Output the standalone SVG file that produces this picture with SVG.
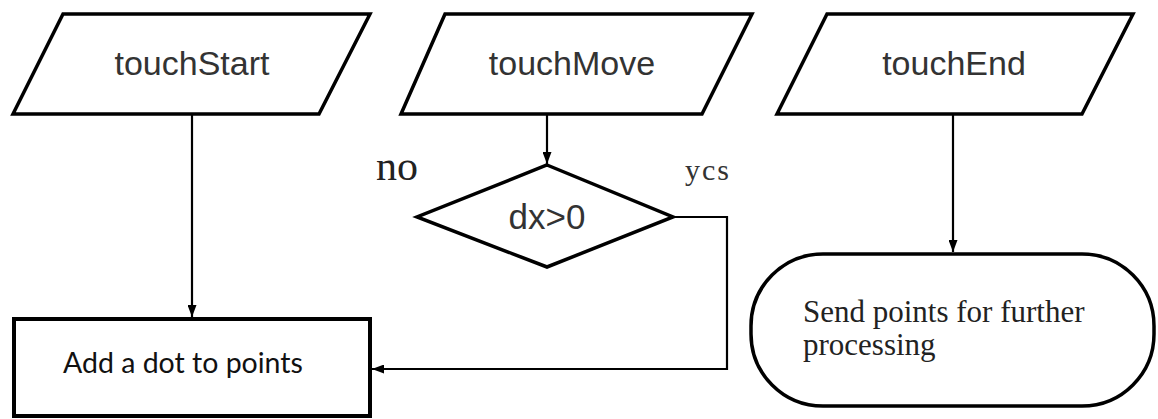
<svg xmlns="http://www.w3.org/2000/svg" width="1158" height="419" viewBox="0 0 1158 419">
<style>
.shape{fill:#fff;stroke:#000;stroke-width:3.5;stroke-linejoin:miter}
.conn{fill:none;stroke:#000;stroke-width:2.2}
.sans{font-family:"Liberation Sans",Arial,sans-serif;fill:#333;font-size:34px;text-anchor:middle}
.serif{font-family:"Liberation Serif","Times New Roman",serif;fill:#222}
</style>
<defs>
<marker id="arr" viewBox="0 0 10 10" refX="10" refY="5" markerWidth="12" markerHeight="9" markerUnits="userSpaceOnUse" orient="auto" preserveAspectRatio="none">
<path d="M0,0 L10,5 L0,10 z" fill="#000"/>
</marker>
</defs>
<g id="connectors">
<path class="conn" d="M192,114 V317" marker-end="url(#arr)"/>
<path class="conn" d="M547,114 V164" marker-end="url(#arr)"/>
<path class="conn" d="M953,114 V252" marker-end="url(#arr)"/>
<path class="conn" d="M673,217 H727 V369 H372" marker-end="url(#arr)"/>
</g>
<g id="touchStart">
<polygon class="shape" points="63,14 370,14 319,114 13,114"/>
<text class="sans" x="192" y="75">touchStart</text>
</g>
<g id="touchMove">
<polygon class="shape" points="445,14 752,14 702,114 401,114"/>
<text class="sans" x="572" y="75">touchMove</text>
</g>
<g id="touchEnd">
<polygon class="shape" points="827,14 1133,14 1082,114 777,114"/>
<text class="sans" x="954" y="75">touchEnd</text>
</g>
<g id="decision">
<polygon class="shape" points="547,165 673,217 547,267 417,217"/>
<text class="sans" x="547" y="229" style="font-size:35px">dx&gt;0</text>
</g>
<g id="labels">
<text class="serif" x="376" y="180" style="font-size:42px">no</text>
<text class="serif" x="685" y="180" style="font-size:30px;letter-spacing:2px;fill:#333">ycs</text>
</g>
<g id="addDot">
<rect class="shape" x="14" y="319" width="356" height="97" style="stroke-width:4"/>
<text x="63" y="373" style="font-family:Lato,'Open Sans',sans-serif;font-size:28.5px;fill:#111">Add a dot to points</text>
</g>
<g id="send">
<rect class="shape" x="751" y="254" width="403" height="152" rx="72" ry="72"/>
<text class="serif" style="font-size:31px" x="803" y="322">Send points for further</text>
<text class="serif" style="font-size:31px" x="803" y="355">processing</text>
</g>
</svg>
